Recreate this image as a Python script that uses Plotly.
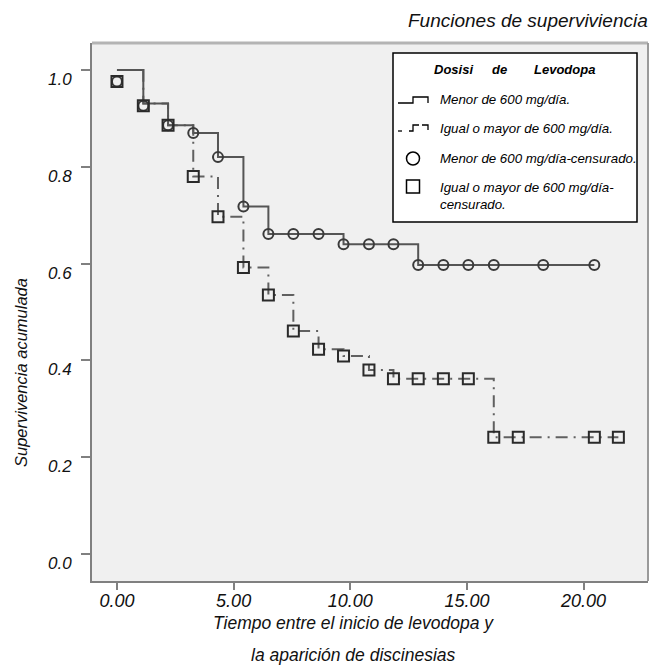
import plotly.graph_objects as go

# ---------------- data ----------------
# Group 1: "Menor de 600 mg/día" (solid step line, censored circles)
g1_step_t = [0, 1.13, 2.19, 3.27, 4.33, 5.42, 6.49, 9.71, 12.91, 20.46]
g1_step_s = [1.0, 0.931, 0.886, 0.870, 0.820, 0.718, 0.661, 0.640, 0.597, 0.597]
g1_cens_t = [0, 1.13, 2.19, 3.27, 4.33, 5.42, 6.49, 7.56, 8.64, 9.71, 10.80,
             11.85, 12.91, 13.99, 15.06, 16.15, 18.27, 20.46]
g1_cens_s = [0.976, 0.926, 0.886, 0.870, 0.820, 0.718, 0.661, 0.661, 0.661, 0.640,
             0.640, 0.640, 0.597, 0.597, 0.597, 0.597, 0.597, 0.597]

# Group 2: "Igual o mayor de 600 mg/día" (dashed step line, censored squares)
g2_step_t = [0, 1.13, 2.19, 3.27, 4.33, 5.42, 6.49, 7.56, 8.64, 9.71, 10.80, 11.85, 16.15, 21.49]
g2_step_s = [1.0, 0.931, 0.886, 0.780, 0.697, 0.592, 0.535, 0.461, 0.423, 0.409, 0.380,
             0.362, 0.241, 0.241]
g2_cens_t = [0, 1.13, 2.19, 3.27, 4.33, 5.42, 6.49, 7.56, 8.64, 9.71, 10.80, 11.85,
             12.91, 13.99, 15.06, 16.15, 17.20, 20.46, 21.49]
g2_cens_s = [0.976, 0.926, 0.886, 0.780, 0.697, 0.592, 0.535, 0.461, 0.423, 0.409, 0.380,
             0.362, 0.362, 0.362, 0.362, 0.241, 0.241, 0.241, 0.241]

x_tickvals = [0, 5, 10, 15, 20]
x_ticktext = ["0.00", "5.00", "10.00", "15.00", "20.00"]
y_tickvals = [0.0, 0.2, 0.4, 0.6, 0.8, 1.0]
y_ticktext = ["0.0", "0.2", "0.4", "0.6", "0.8", "1.0"]

title_text = "Funciones de superviviencia"
x_title_lines = ["Tiempo entre el inicio de levodopa y", "la aparición de discinesias"]
y_title = "Supervivencia acumulada"
legend_title_words = ["Dosisi", "de", "Levodopa"]
legend_labels = ["Menor de 600 mg/día.", "Igual o mayor de 600 mg/día.",
                 "Menor de 600 mg/día-censurado.", "Igual o mayor de 600 mg/día-", "censurado."]

# ---------------- layout geometry ----------------
W, H = 652, 671
L, R, T, B = 92, 4, 43, 90
PW, PH = W - L - R, H - T - B
FONT = "Liberation Sans, Arial, Helvetica, sans-serif"


def px(x):
    return (x - L) / PW


def py(y):
    return (H - B - y) / PH


fig = go.Figure()

fig.add_trace(go.Scatter(x=g2_step_t, y=g2_step_s, mode="lines", line_shape="hv",
                         line=dict(color="#606060", width=2, dash="12px,6px,2px,6px"),
                         showlegend=False, hoverinfo="skip"))
fig.add_trace(go.Scatter(x=g1_step_t, y=g1_step_s, mode="lines", line_shape="hv",
                         line=dict(color="#555555", width=2),
                         showlegend=False, hoverinfo="skip"))
fig.add_trace(go.Scatter(x=g1_cens_t, y=g1_cens_s, mode="markers",
                         marker=dict(symbol="circle-open", size=10, color="#3a3a3a",
                                     line=dict(width=2, color="#3a3a3a")),
                         showlegend=False, hoverinfo="skip"))
fig.add_trace(go.Scatter(x=g2_cens_t, y=g2_cens_s, mode="markers",
                         marker=dict(symbol="square-open", size=11, color="#2a2a2a",
                                     line=dict(width=2, color="#2a2a2a")),
                         showlegend=False, hoverinfo="skip"))

shapes = []
# top and right frame
shapes.append(dict(type="line", xref="paper", yref="paper", x0=0, x1=1, y0=1, y1=1,
                   line=dict(color="#b4b4b4", width=3)))
shapes.append(dict(type="line", xref="paper", yref="paper", x0=1, x1=1, y0=0, y1=1,
                   line=dict(color="#9a9a9a", width=2)))
# legend box
shapes.append(dict(type="rect", xref="paper", yref="paper", x0=px(393), x1=px(637),
                   y0=py(222), y1=py(53), fillcolor="white", line=dict(color="black", width=1.5)))
# legend symbols
shapes.append(dict(type="path", xref="paper", yref="paper",
                   path=f"M {px(398)},{py(103)} L {px(413)},{py(103)} L {px(413)},{py(97)} "
                        f"L {px(428)},{py(97)} L {px(428)},{py(103)}",
                   line=dict(color="black", width=1.3)))
shapes.append(dict(type="path", xref="paper", yref="paper",
                   path=f"M {px(398)},{py(131)} L {px(402)},{py(131)}",
                   line=dict(color="black", width=1.3)))
shapes.append(dict(type="path", xref="paper", yref="paper",
                   path=f"M {px(409)},{py(131)} L {px(413)},{py(131)} L {px(413)},{py(125)} "
                        f"L {px(419)},{py(125)}",
                   line=dict(color="black", width=1.3)))
shapes.append(dict(type="path", xref="paper", yref="paper",
                   path=f"M {px(422)},{py(125)} L {px(428)},{py(125)} L {px(428)},{py(130)}",
                   line=dict(color="black", width=1.3)))
shapes.append(dict(type="circle", xref="paper", yref="paper", x0=px(406.5), x1=px(419.5),
                   y0=py(165), y1=py(152), line=dict(color="black", width=1.5)))
shapes.append(dict(type="rect", xref="paper", yref="paper", x0=px(406.5), x1=px(419.5),
                   y0=py(193), y1=py(180), line=dict(color="black", width=1.5)))

ann = []
ann.append(dict(text=f"<i>{title_text}</i>", x=px(650), y=py(21), xref="paper", yref="paper",
                xanchor="right", yanchor="middle", showarrow=False,
                font=dict(family=FONT, size=19, color="#111")))
ann.append(dict(text=f"<i>{x_title_lines[0]}</i>", x=px(353), y=py(623), xref="paper", yref="paper",
                xanchor="center", yanchor="middle", showarrow=False,
                font=dict(family=FONT, size=17.5, color="#111")))
ann.append(dict(text=f"<i>{x_title_lines[1]}</i>", x=px(353), y=py(655), xref="paper", yref="paper",
                xanchor="center", yanchor="middle", showarrow=False,
                font=dict(family=FONT, size=17.5, color="#111")))
ann.append(dict(text=f"<i>{y_title}</i>", x=px(21), y=py(373), xref="paper", yref="paper",
                xanchor="center", yanchor="middle", textangle=-90, showarrow=False,
                font=dict(family=FONT, size=16.5, color="#111")))
for word, xl in zip(legend_title_words, [432, 490, 532]):
    ann.append(dict(text=f"<b><i>{word}</i></b>", x=px(xl), y=py(69), xref="paper", yref="paper",
                    xanchor="left", yanchor="middle", showarrow=False,
                    font=dict(family=FONT, size=13, color="black")))
for lab, yy in zip(legend_labels, [100, 128, 158, 187, 205]):
    ann.append(dict(text=f"<i>{lab}</i>", x=px(438), y=py(yy), xref="paper", yref="paper",
                    xanchor="left", yanchor="middle", showarrow=False,
                    font=dict(family=FONT, size=13.3, color="black")))

fig.update_layout(
    width=W, height=H,
    margin=dict(l=L, r=R, t=T, b=B),
    paper_bgcolor="white", plot_bgcolor="#f0f0f0",
    showlegend=False,
    shapes=shapes, annotations=ann,
    font=dict(family=FONT),
    xaxis=dict(range=[-1.07, 22.76], tickvals=x_tickvals, ticktext=x_ticktext,
               ticks="outside", ticklen=7, tickwidth=2, tickcolor="#808080",
               showline=True, linecolor="#808080", linewidth=2,
               showgrid=False, zeroline=False, ticklabelstandoff=-5,
               tickfont=dict(family=FONT, size=18, color="#111", style="italic")),
    yaxis=dict(range=[-0.0558, 1.0558], tickvals=y_tickvals, ticktext=y_ticktext,
               ticks="outside", ticklen=9, tickwidth=2, tickcolor="#808080",
               showline=True, linecolor="#808080", linewidth=2,
               showgrid=False, zeroline=False, ticklabelshift=9, ticklabelstandoff=6,
               tickfont=dict(family=FONT, size=17, color="#111", style="italic")),
)

fig.write_html("out.html", config=dict(displayModeBar=False))
